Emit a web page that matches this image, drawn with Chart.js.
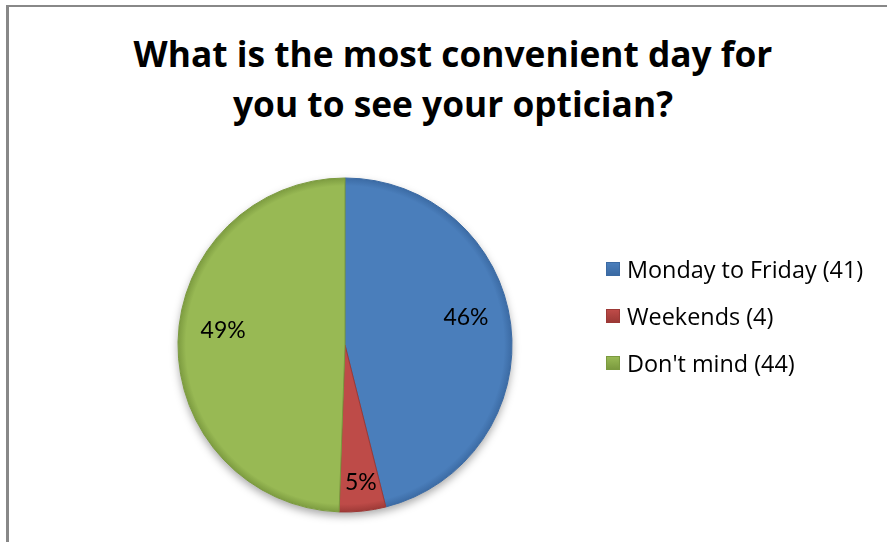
<!DOCTYPE html>
<html>
<head>
<meta charset="utf-8">
<script src="https://cdn.jsdelivr.net/npm/chart.js@4/dist/chart.umd.min.js"></script>
<style>
  html, body { margin: 0; padding: 0; background: #fff; }
  body { width: 887px; height: 542px; overflow: hidden; position: relative; font-family: "Open Sans", Lato, sans-serif; }
  .frame {
    position: absolute; left: 6px; top: 5px; width: 1000px; height: 1000px;
    border-top: 2px solid #888; border-left: 3px solid #888;
  }
  .title {
    position: absolute; left: 0; top: 28px; width: 906px; text-align: center;
    font-weight: 700; font-size: 35.3px; line-height: 50px; color: #000;
  }
  #chart { position: absolute; left: 0; top: 0; }
  .legend { position: absolute; left: 606px; top: 245px; margin: 0; padding: 0; list-style: none; }
  .legend li { height: 47px; display: flex; align-items: center; font-size: 23.4px; color: #000; }
  .legend span.box { width: 12px; height: 12px; margin-right: 7px; border: 1px solid; box-sizing: content-box; }
</style>
</head>
<body>
<div class="frame"></div>
<div class="title">What is the most convenient day for<br>you to see your optician?</div>
<canvas id="chart" width="887" height="542"></canvas>
<ul class="legend" id="legend"></ul>
<script>
const answers = ["Monday to Friday", "Weekends", "Don't mind"];
const responses = [41, 4, 44];
const fillColors = ["#4A7EBB", "#BE4B48", "#98B954"];
const edgeColors = ["#3B6AA3", "#9C3936", "#7B9A3F"];

const total = responses.reduce((a, b) => a + b, 0);

// whole percentages that add up to 100 (largest remainder)
function roundedShares(values) {
  const raw = values.map((v) => (v / total) * 100);
  const out = raw.map(Math.floor);
  let left = 100 - out.reduce((a, b) => a + b, 0);
  raw
    .map((v, i) => [v - Math.floor(v), i])
    .sort((a, b) => b[0] - a[0])
    .forEach(([, i]) => { if (left > 0) { out[i]++; left--; } });
  return out;
}
const percents = roundedShares(responses);

// soft shadow under the whole pie
const pieShadow = {
  id: "pieShadow",
  beforeDatasetsDraw(chart) {
    const arc = chart.getDatasetMeta(0).data[0];
    if (!arc) return;
    const { x, y, outerRadius } = arc.getProps(["x", "y", "outerRadius"], true);
    const ctx = chart.ctx;
    ctx.save();
    ctx.shadowColor = "rgba(0,0,0,0.35)";
    ctx.shadowBlur = 9;
    ctx.shadowOffsetY = 4;
    ctx.beginPath();
    ctx.arc(x, y, outerRadius, 0, Math.PI * 2);
    ctx.fillStyle = "#fff";
    ctx.fill();
    ctx.restore();
  },
};

// percentage labels inside each slice, anchored a little above the bisector
const sliceLabels = {
  id: "sliceLabels",
  afterDatasetsDraw(chart) {
    const ctx = chart.ctx;
    const meta = chart.getDatasetMeta(0);
    ctx.save();
    ctx.font = "23px Lato, sans-serif";
    ctx.fillStyle = "#000";
    ctx.textAlign = "center";
    ctx.textBaseline = "middle";
    meta.data.forEach((arc, i) => {
      const { x, y, startAngle, endAngle, outerRadius } = arc.getProps(
        ["x", "y", "startAngle", "endAngle", "outerRadius"], true);
      const mid = (startAngle + endAngle) / 2;
      const r = outerRadius * (percents[i] < 10 ? 0.9 : 0.73);
      ctx.fillText(percents[i] + "%", x + Math.cos(mid) * r, y + Math.sin(mid) * r - 12);
    });
    ctx.restore();
  },
};

function sliceFill(context) {
  const i = context.dataIndex;
  const area = context.chart.chartArea;
  if (!area) return fillColors[i];
  const cx = (area.left + area.right) / 2;
  const cy = (area.top + area.bottom) / 2;
  const r = Math.min(area.right - area.left, area.bottom - area.top) / 2;
  const g = context.chart.ctx.createRadialGradient(cx, cy, 0, cx, cy, r);
  g.addColorStop(0, fillColors[i]);
  g.addColorStop(0.95, fillColors[i]);
  g.addColorStop(1, edgeColors[i]);
  return g;
}

new Chart(document.getElementById("chart"), {
  type: "pie",
  data: {
    labels: answers,
    datasets: [{
      data: responses,
      backgroundColor: sliceFill,
      borderColor: edgeColors,
      borderWidth: 1,
    }],
  },
  options: {
    responsive: false,
    animation: false,
    devicePixelRatio: 1,
    layout: { padding: { left: 177.5, right: 374.5, top: 177.5, bottom: 29.5 } },
    plugins: {
      legend: { display: false },
      tooltip: { enabled: false },
    },
  },
  plugins: [pieShadow, sliceLabels],
});

const legend = document.getElementById("legend");
answers.forEach((name, i) => {
  const li = document.createElement("li");
  const box = document.createElement("span");
  box.className = "box";
  box.style.background = "linear-gradient(" + fillColors[i] + ", " + edgeColors[i] + ")";
  box.style.borderColor = edgeColors[i];
  li.appendChild(box);
  li.appendChild(document.createTextNode(name + " (" + responses[i] + ")"));
  legend.appendChild(li);
});
</script>
</body>
</html>
